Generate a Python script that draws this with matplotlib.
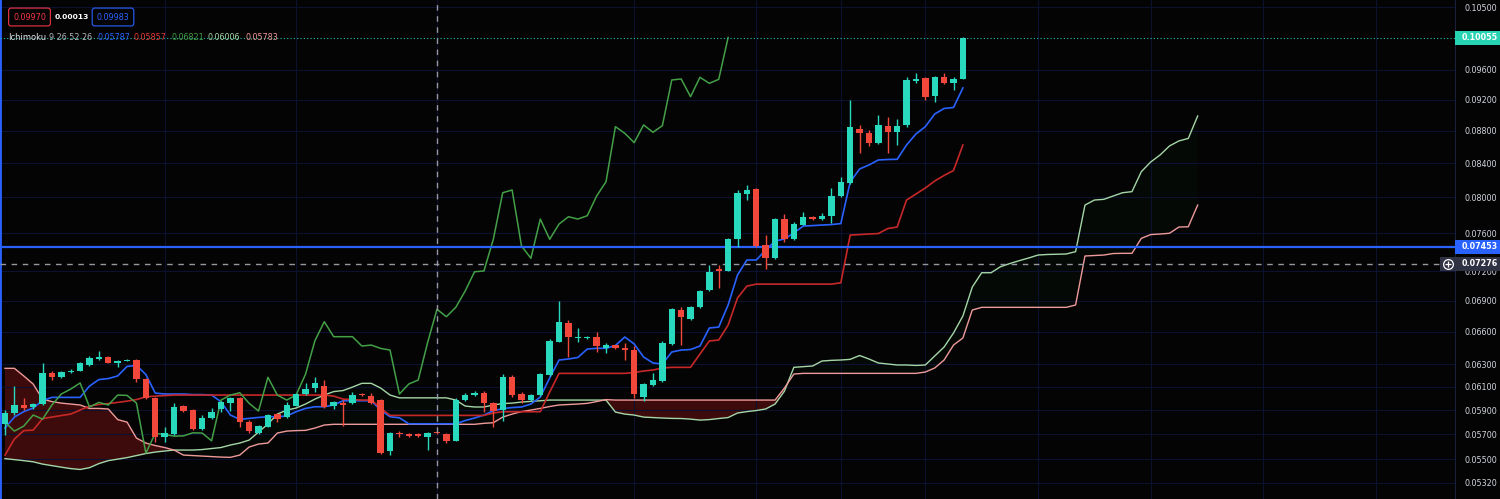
import numpy as np
import matplotlib.pyplot as plt
from matplotlib.patches import Rectangle
from matplotlib.ticker import FixedLocator, NullLocator, FuncFormatter

# daily candles (price units)
opens = [
    0.05785, 0.05879, 0.05945, 0.05928, 0.05953, 0.06223, 0.06188, 0.06232, 0.06244, 0.06295,
    0.06349, 0.06367, 0.06313, 0.06331, 0.06340, 0.06170, 0.06004, 0.05678, 0.05703, 0.05936,
    0.05902, 0.05743, 0.05835, 0.05911, 0.05961, 0.06004, 0.05801, 0.05711, 0.05762, 0.05868,
    0.05843, 0.05939, 0.06039, 0.06091, 0.06108, 0.05939, 0.05964, 0.05961, 0.06041, 0.06021,
    0.05987, 0.05568, 0.05713, 0.05703, 0.05703, 0.05681, 0.05716, 0.05703, 0.05648, 0.05987,
    0.06030, 0.06050, 0.05959, 0.05902, 0.06190, 0.06036, 0.05987, 0.06030, 0.06206, 0.06508,
    0.06682, 0.06540, 0.06546, 0.06555, 0.06452, 0.06477, 0.06446, 0.06431, 0.06010, 0.06117,
    0.06152, 0.06487, 0.06810, 0.06720, 0.06836, 0.07007, 0.07221, 0.07204, 0.07535, 0.08039,
    0.08097, 0.07474, 0.07333, 0.07753, 0.07535, 0.07690, 0.07775, 0.07753, 0.07793, 0.08016,
    0.08163, 0.08823, 0.08776, 0.08644, 0.08865, 0.08789, 0.08874, 0.09450, 0.09486, 0.09249,
    0.09499, 0.09427, 0.09472]
highs = [
    0.05902, 0.06108, 0.06004, 0.05961, 0.06313, 0.06241, 0.06241, 0.06259, 0.06322, 0.06376,
    0.06422, 0.06376, 0.06340, 0.06345, 0.06349, 0.06179, 0.06013, 0.05760, 0.05961, 0.05945,
    0.05911, 0.05860, 0.05919, 0.05978, 0.06013, 0.06013, 0.05818, 0.05777, 0.05868, 0.05879,
    0.05970, 0.06047, 0.06135, 0.06188, 0.06161, 0.05978, 0.05987, 0.06056, 0.06047, 0.06047,
    0.05995, 0.05719, 0.05727, 0.05711, 0.05711, 0.05719, 0.05719, 0.05711, 0.06004, 0.06047,
    0.06064, 0.06064, 0.05973, 0.06212, 0.06206, 0.06058, 0.06039, 0.06223, 0.06533, 0.06901,
    0.06713, 0.06640, 0.06562, 0.06602, 0.06493, 0.06482, 0.06499, 0.06468, 0.06135, 0.06226,
    0.06515, 0.06830, 0.06836, 0.06849, 0.07007, 0.07263, 0.07263, 0.07549, 0.08085, 0.08143,
    0.08108, 0.07581, 0.07767, 0.07812, 0.07723, 0.07838, 0.07790, 0.07820, 0.08105, 0.08234,
    0.09196, 0.08874, 0.08810, 0.09001, 0.08979, 0.08946, 0.09508, 0.09554, 0.09508, 0.09517,
    0.09562, 0.09504, 0.10060]
lows = [
    0.05695, 0.05860, 0.05902, 0.05911, 0.05945, 0.06161, 0.06179, 0.06223, 0.06241, 0.06286,
    0.06340, 0.06310, 0.06277, 0.06327, 0.06143, 0.05995, 0.05638, 0.05638, 0.05695, 0.05885,
    0.05735, 0.05735, 0.05826, 0.05885, 0.05894, 0.05760, 0.05711, 0.05703, 0.05760, 0.05804,
    0.05835, 0.05936, 0.06030, 0.06056, 0.05919, 0.05911, 0.05768, 0.05953, 0.06021, 0.05953,
    0.05542, 0.05534, 0.05681, 0.05678, 0.05678, 0.05574, 0.05703, 0.05628, 0.05646, 0.05978,
    0.06021, 0.05888, 0.05762, 0.05812, 0.06015, 0.05964, 0.05981, 0.06021, 0.06197, 0.06505,
    0.06365, 0.06508, 0.06538, 0.06415, 0.06406, 0.06440, 0.06340, 0.06001, 0.05981, 0.06113,
    0.06148, 0.06477, 0.06477, 0.06713, 0.06830, 0.06997, 0.07025, 0.07201, 0.07449, 0.07970,
    0.07452, 0.07218, 0.07326, 0.07509, 0.07527, 0.07685, 0.07751, 0.07745, 0.07709, 0.08001,
    0.08155, 0.08521, 0.08610, 0.08635, 0.08521, 0.08623, 0.08852, 0.09419, 0.09196, 0.09174,
    0.09409, 0.09329, 0.09472]
closes = [
    0.05879, 0.05945, 0.05919, 0.05953, 0.06223, 0.06188, 0.06232, 0.06241, 0.06310, 0.06358,
    0.06367, 0.06313, 0.06331, 0.06340, 0.06170, 0.06004, 0.05678, 0.05711, 0.05928, 0.05894,
    0.05743, 0.05835, 0.05885, 0.05970, 0.06004, 0.05801, 0.05727, 0.05768, 0.05860, 0.05826,
    0.05945, 0.06039, 0.06082, 0.06135, 0.05928, 0.05967, 0.05945, 0.06030, 0.06027, 0.05961,
    0.05550, 0.05708, 0.05700, 0.05686, 0.05688, 0.05713, 0.05711, 0.05648, 0.05987, 0.06030,
    0.06050, 0.05959, 0.05894, 0.06185, 0.06030, 0.05987, 0.06030, 0.06212, 0.06517, 0.06697,
    0.06555, 0.06555, 0.06555, 0.06468, 0.06477, 0.06446, 0.06431, 0.06039, 0.06126, 0.06161,
    0.06499, 0.06817, 0.06745, 0.06836, 0.06997, 0.07193, 0.07201, 0.07535, 0.08054, 0.08085,
    0.07463, 0.07333, 0.07756, 0.07535, 0.07701, 0.07782, 0.07756, 0.07793, 0.08016, 0.08182,
    0.08852, 0.08768, 0.08652, 0.08874, 0.08781, 0.08865, 0.09463, 0.09477, 0.09240, 0.09499,
    0.09418, 0.09472, 0.10055]

# Ichimoku (9 26 52 26) lines as displayed
tenkan = [
    0.05752, 0.05843, 0.05889, 0.05919, 0.05983, 0.06010, 0.06010, 0.06010, 0.06010, 0.06108,
    0.06165, 0.06174, 0.06197, 0.06282, 0.06291, 0.06210, 0.06047, 0.06039, 0.06039, 0.06039,
    0.06034, 0.06034, 0.06030, 0.05973, 0.05860, 0.05824, 0.05832, 0.05840, 0.05846, 0.05846,
    0.05852, 0.05888, 0.05916, 0.05930, 0.05930, 0.05945, 0.05981, 0.05981, 0.05981, 0.05981,
    0.05902, 0.05846, 0.05837, 0.05787, 0.05787, 0.05787, 0.05787, 0.05787, 0.05787, 0.05814,
    0.05835, 0.05860, 0.05896, 0.05915, 0.05923, 0.05928, 0.05953, 0.06013, 0.06179, 0.06340,
    0.06349, 0.06363, 0.06440, 0.06447, 0.06447, 0.06473, 0.06552, 0.06487, 0.06367, 0.06313,
    0.06304, 0.06413, 0.06431, 0.06436, 0.06468, 0.06637, 0.06646, 0.06859, 0.07160, 0.07315,
    0.07315, 0.07420, 0.07516, 0.07538, 0.07603, 0.07679, 0.07684, 0.07690, 0.07695, 0.07706,
    0.08179, 0.08332, 0.08380, 0.08440, 0.08446, 0.08448, 0.08623, 0.08760, 0.08852, 0.09014,
    0.09085, 0.09098, 0.09356]
kijun = [
    0.05534, 0.05662, 0.05731, 0.05735, 0.05830, 0.05843, 0.05856, 0.05868, 0.05902, 0.05936,
    0.05949, 0.05957, 0.05967, 0.05978, 0.05991, 0.06015, 0.06021, 0.06025, 0.06030, 0.06030,
    0.06030, 0.06030, 0.06030, 0.06030, 0.06030, 0.06030, 0.06030, 0.06030, 0.06030, 0.06030,
    0.06030, 0.06030, 0.06030, 0.06030, 0.06030, 0.06021, 0.05995, 0.05991, 0.05987, 0.05987,
    0.05919, 0.05857, 0.05857, 0.05857, 0.05857, 0.05857, 0.05857, 0.05857, 0.05857, 0.05857,
    0.05857, 0.05857, 0.05877, 0.05888, 0.05888, 0.05888, 0.05888, 0.05888, 0.06056, 0.06220,
    0.06220, 0.06220, 0.06220, 0.06220, 0.06220, 0.06220, 0.06220, 0.06228, 0.06241, 0.06250,
    0.06268, 0.06274, 0.06274, 0.06274, 0.06394, 0.06515, 0.06524, 0.06665, 0.06928, 0.07047,
    0.07067, 0.07067, 0.07067, 0.07067, 0.07067, 0.07067, 0.07067, 0.07067, 0.07067, 0.07080,
    0.07581, 0.07586, 0.07592, 0.07597, 0.07652, 0.07668, 0.07970, 0.08039, 0.08108, 0.08190,
    0.08255, 0.08314, 0.08623]
# leading spans run 25 bars past the last candle
span_a = [
    0.05506, 0.05498, 0.05490, 0.05481, 0.05463, 0.05451, 0.05439, 0.05428, 0.05421, 0.05435,
    0.05467, 0.05490, 0.05502, 0.05514, 0.05530, 0.05546, 0.05558, 0.05566, 0.05574, 0.05574,
    0.05574, 0.05578, 0.05586, 0.05594, 0.05614, 0.05630, 0.05654, 0.05719, 0.05785, 0.05868,
    0.05902, 0.05919, 0.05953, 0.05995, 0.06030, 0.06060, 0.06069, 0.06099, 0.06132, 0.06132,
    0.06091, 0.06030, 0.06006, 0.06006, 0.06006, 0.06006, 0.06006, 0.06006, 0.05987, 0.05936,
    0.05928, 0.05928, 0.05945, 0.05957, 0.05961, 0.05970, 0.05976, 0.05981, 0.05987, 0.05987,
    0.05987, 0.05987, 0.05987, 0.05987, 0.05987, 0.05885, 0.05868, 0.05860, 0.05843, 0.05839,
    0.05835, 0.05832, 0.05831, 0.05826, 0.05818, 0.05822, 0.05831, 0.05839, 0.05877, 0.05889,
    0.05898, 0.05911, 0.05953, 0.06064, 0.06274, 0.06280, 0.06286, 0.06331, 0.06337, 0.06340,
    0.06346, 0.06381, 0.06349, 0.06313, 0.06304, 0.06295, 0.06295, 0.06291, 0.06295, 0.06376,
    0.06459, 0.06590, 0.06752, 0.07037, 0.07183, 0.07183, 0.07245, 0.07278, 0.07308, 0.07336,
    0.07367, 0.07373, 0.07376, 0.07378, 0.07403, 0.07913, 0.07970, 0.07978, 0.08016, 0.08054,
    0.08066, 0.08300, 0.08416, 0.08501, 0.08611, 0.08673, 0.08704, 0.08988]
span_b = [
    0.06265, 0.06265, 0.06197, 0.06126, 0.05995, 0.05974, 0.05961, 0.05953, 0.05945, 0.05916,
    0.05916, 0.05911, 0.05822, 0.05801, 0.05670, 0.05630, 0.05610, 0.05594, 0.05574, 0.05534,
    0.05530, 0.05526, 0.05522, 0.05518, 0.05516, 0.05534, 0.05598, 0.05622, 0.05630, 0.05711,
    0.05727, 0.05731, 0.05733, 0.05752, 0.05777, 0.05783, 0.05783, 0.05783, 0.05783, 0.05783,
    0.05783, 0.05783, 0.05783, 0.05783, 0.05783, 0.05783, 0.05783, 0.05783, 0.05783, 0.05783,
    0.05783, 0.05791, 0.05796, 0.05843, 0.05868, 0.05889, 0.05902, 0.05916, 0.05932, 0.05945,
    0.05949, 0.05953, 0.05959, 0.05974, 0.05991, 0.05987, 0.05987, 0.05987, 0.05987, 0.05987,
    0.05987, 0.05987, 0.05987, 0.05987, 0.05987, 0.05987, 0.05987, 0.05987, 0.05987, 0.05987,
    0.05987, 0.05987, 0.05987, 0.06091, 0.06214, 0.06220, 0.06220, 0.06220, 0.06220, 0.06220,
    0.06220, 0.06220, 0.06220, 0.06220, 0.06220, 0.06220, 0.06220, 0.06220, 0.06232, 0.06268,
    0.06340, 0.06477, 0.06543, 0.06810, 0.06836, 0.06836, 0.06836, 0.06836, 0.06836, 0.06836,
    0.06836, 0.06836, 0.06836, 0.06836, 0.06859, 0.07357, 0.07362, 0.07367, 0.07383, 0.07385,
    0.07385, 0.07545, 0.07586, 0.07592, 0.07600, 0.07668, 0.07671, 0.07913]
displacement = 25

price_ticks = [0.105, 0.096, 0.092, 0.088, 0.084, 0.080, 0.076, 0.072, 0.069,
               0.066, 0.063, 0.061, 0.059, 0.057, 0.055, 0.0532]
grid_bars = [17, 31, 46, 67, 80, 89, 98, 110, 122, 134, 146]
crosshair_bar = 46
last_price = 0.10055
alert_price = 0.07453
cursor_price = 0.07276
legend_vals = ['0.05787', '0.05857', '0.06821', '0.06006', '0.05783']

W, H = 1500, 499
BG = '#040405'
fig = plt.figure(figsize=(W / 100, H / 100), dpi=100, facecolor=BG)
ax = fig.add_axes([0, 0, 1455 / W, 1])
ax.set_facecolor(BG)
ax.set_yscale('log')
ax.set_xlim(-0.53, 154.4)
ax.set_ylim(0.05197, 0.10610)

n = len(closes)
x = np.arange(n)
o, h, l, c = (np.array(v) for v in (opens, highs, lows, closes))
cols = np.where(c >= o, '#28d9be', '#f2483c')

# grid
ax.yaxis.set_major_locator(FixedLocator(price_ticks))
ax.yaxis.set_minor_locator(NullLocator())
ax.yaxis.set_major_formatter(FuncFormatter(lambda v, p: f'{v:.5f}'))
ax.yaxis.tick_right()
ax.set_xticks(grid_bars)
ax.tick_params(axis='x', length=0, labelbottom=False)
ax.tick_params(axis='y', which='both', length=0, pad=7, labelsize=5.8, labelcolor='#d1d4dc')
ax.grid(True, color='#0d1130', lw=0.8, zorder=0)
for s in ('top', 'bottom'):
    ax.spines[s].set_visible(False)
ax.spines['left'].set_color('#2962ff')
ax.spines['left'].set_linewidth(2)
ax.spines['right'].set_color('#1a1f3c')

# cloud
xs = np.arange(len(span_a))
a, b = np.array(span_a), np.array(span_b)
ax.fill_between(xs, a, b, where=b > a, interpolate=True, color='#3d0b0b', lw=0, zorder=1)
ax.fill_between(xs, a, b, where=a >= b, interpolate=True, color='#040906', lw=0, zorder=1)
ax.plot(xs, a, color='#a5d6a7', lw=1, zorder=2)
ax.plot(xs, b, color='#ef9a9a', lw=1, zorder=2)

ax.plot(x, tenkan, color='#2962ff', lw=1.2, zorder=3)
ax.plot(x, kijun, color='#c62828', lw=1.2, zorder=3)
ax.plot(x[:n - displacement], c[displacement:], color='#43a047', lw=1.1, zorder=3)

# horizontal drawings / price lines
ax.axhline(alert_price, color='#2962ff', lw=1.6, zorder=3.5)
ax.axhline(cursor_price, xmax=1440 / 1455, color='#9598a1', lw=1, ls=(0, (4, 4)), zorder=3.5)
ax.axhline(last_price, color='#2bbfa6', lw=0.8, ls=(0, (1, 2)), zorder=3.5)
ax.axvline(crosshair_bar, color='#9598a1', lw=1, ls=(0, (4, 4)), zorder=6)

# candles
ax.vlines(x, l, h, colors=cols, lw=1, zorder=4)
lo = np.minimum(o, c)
ht = np.maximum(np.abs(c - o), lo * 0.0015)
ax.bar(x, ht, bottom=lo, width=0.68, color=cols, lw=0, zorder=5)


def price_tag(price, label, face, x0=1455):
    yc = ax.transData.transform((0, price))[1]
    fig.patches.append(Rectangle((x0 / W, (yc - 7) / H), (W - x0) / W, 14 / H,
                                 transform=fig.transFigure, fc=face, ec='none', zorder=10))
    fig.text(1462 / W, yc / H, label, color='white', fontsize=5.8, fontweight='bold',
             va='center', ha='left', zorder=11)
    return yc


price_tag(last_price, f'{last_price:.5f}', '#26d4b3')
price_tag(alert_price, f'{alert_price:.5f}', '#2962ff')
yc = price_tag(cursor_price, f'{cursor_price:.5f}', '#2f3242', x0=1440)
fig.lines.append(plt.Line2D([1447.5 / W], [yc / H], transform=fig.transFigure, marker='o',
                            ms=7, mfc='#2f3242', mec='white', mew=0.9, zorder=12))
fig.lines.append(plt.Line2D([1447.5 / W], [yc / H], transform=fig.transFigure, marker='+',
                            ms=4, mec='white', mew=0.9, zorder=13))


def px(xp, yp):
    return xp / W, 1 - yp / H


# legend rows
fig.text(*px(29.5, 17), '0.09970', color='#f23645', fontsize=5.8, ha='center', va='center',
         bbox=dict(boxstyle='round,pad=0.55,rounding_size=0.3', fc=BG, ec='#f23645', lw=0.8))
fig.text(*px(71.5, 17), '0.00013', color='white', fontsize=5.4, fontweight='bold',
         ha='center', va='center')
fig.text(*px(113, 17), '0.09983', color='#2962ff', fontsize=5.8, ha='center', va='center',
         bbox=dict(boxstyle='round,pad=0.55,rounding_size=0.3', fc=BG, ec='#2962ff', lw=0.8))

fig.text(*px(8, 37), 'Ichimoku', color='#e0e3eb', fontsize=6, va='center')
fig.text(*px(49, 37), '9 26 52 26', color='#b2b5be', fontsize=5.8, va='center')
for xp, val, col in zip([97, 133, 171, 208, 245], legend_vals,
                        ['#2962ff', '#e53935', '#43a047', '#a5d6a7', '#ef9a9a']):
    fig.text(*px(xp, 37), val, color=col, fontsize=5.8, va='center')

fig.savefig('out.png', dpi=100, facecolor=BG)
